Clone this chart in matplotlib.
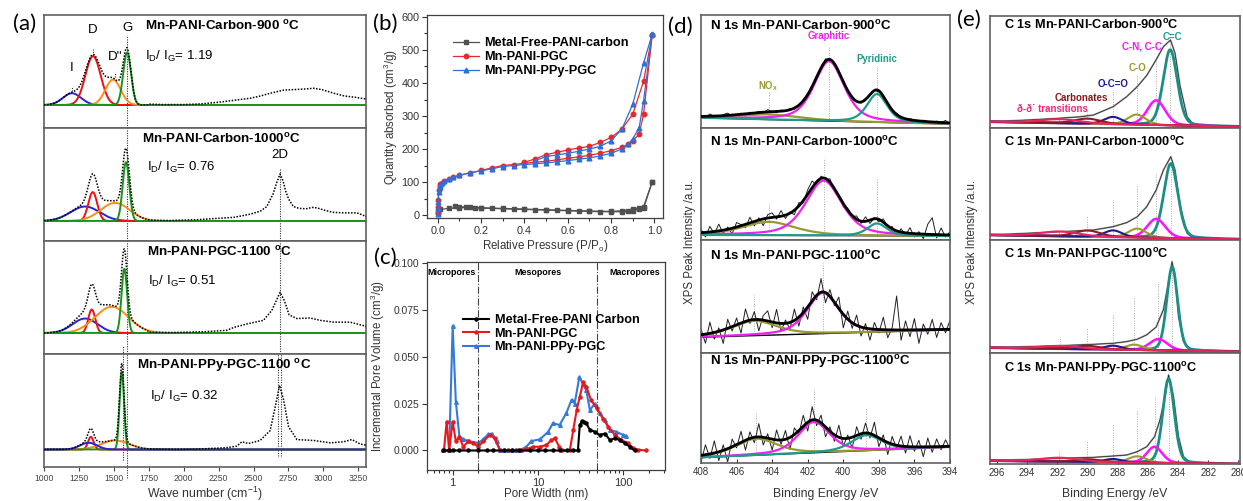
import numpy as np
import matplotlib
matplotlib.use("Agg")
import matplotlib.pyplot as plt
from matplotlib.ticker import MultipleLocator, FixedLocator, LogLocator, NullFormatter, FormatStrFormatter

plt.rcParams['font.family'] = ['Liberation Sans', 'DejaVu Sans']
plt.rcParams['mathtext.fontset'] = 'custom'
plt.rcParams['mathtext.rm'] = 'Liberation Sans'
plt.rcParams['mathtext.it'] = 'Liberation Sans:italic'
plt.rcParams['mathtext.bf'] = 'Liberation Sans:bold'

# ======================= (a) Raman =======================
raman_titles = ['Mn-PANI-Carbon-900 $^\\mathbf{o}$C', 'Mn-PANI-Carbon-1000$^\\mathbf{o}$C',
                'Mn-PANI-PGC-1100 $^\\mathbf{o}$C', 'Mn-PANI-PPy-PGC-1100 $^\\mathbf{o}$C']
raman_ratio = ['1.19', '0.76', '0.51', '0.32']
# fitted bands: I, D, D'', G  (centre cm-1, height, sigma)
ra_I_pos = [1200, 1294, 1294, 1318]; ra_I_h = [0.13, 0.16, 0.16, 0.075]; ra_I_w = [65, 105, 90, 60]
ra_D_pos = [1351, 1349, 1342, 1335]; ra_D_h = [0.54, 0.32, 0.26, 0.14]; ra_D_w = [55, 32, 25, 20]
ra_D2_pos = [1494, 1509, 1485, 1510]; ra_D2_h = [0.28, 0.20, 0.29, 0.10]; ra_D2_w = [55, 105, 120, 100]
ra_G_pos = [1595, 1587, 1575, 1557]; ra_G_h = [0.58, 0.65, 0.71, 0.86]; ra_G_w = [28, 24, 20, 16]
# measured second-order region
ra2_x = [
    [1750, 1850, 2000, 2119, 2250, 2350, 2477, 2550, 2620, 2716, 2780, 2850, 2931, 2990, 3074, 3150, 3230, 3307],
    [1760, 1900, 2000, 2100, 2200, 2356, 2476, 2550, 2595, 2640, 2665, 2690, 2712, 2730, 2752, 2785, 2825, 2875,
     2920, 2955, 3005, 3074, 3150, 3240, 3275, 3305],
    [1750, 1900, 2050, 2150, 2213, 2309, 2356, 2452, 2571, 2631, 2690, 2720, 2755, 2810, 2905, 2977, 3072, 3191, 3307],
    [1800, 1950, 2100, 2165, 2308, 2380, 2416, 2464, 2547, 2619, 2655, 2686, 2715, 2751, 2810, 2930, 3049, 3144,
     3204, 3264, 3305]]
ra2_y = [
    [0.01, 0.005, 0.005, 0.012, 0.03, 0.05, 0.075, 0.10, 0.13, 0.165, 0.17, 0.175, 0.185, 0.17, 0.13, 0.10, 0.085, 0.066],
    [0.01, 0.005, 0.01, 0.015, 0.025, 0.04, 0.075, 0.11, 0.16, 0.30, 0.42, 0.52, 0.44, 0.33, 0.24, 0.16, 0.14, 0.135,
     0.15, 0.145, 0.12, 0.095, 0.09, 0.09, 0.07, 0.05],
    [0.01, 0.005, 0.01, 0.015, 0.02, 0.03, 0.06, 0.10, 0.14, 0.25, 0.45, 0.36, 0.20, 0.16, 0.166, 0.14, 0.12, 0.12, 0.074],
    [0.005, 0.0, 0.005, 0.01, 0.02, 0.037, 0.085, 0.066, 0.10, 0.21, 0.47, 0.71, 0.55, 0.25, 0.11, 0.10, 0.074, 0.085,
     0.11, 0.06, 0.048]]

# ======================= (b) N2 isotherms =======================
b_red_ads_p = [0.0005, 0.001, 0.002, 0.004, 0.008, 0.012, 0.02, 0.03, 0.05, 0.07, 0.1, 0.15, 0.2, 0.25, 0.3, 0.35,
               0.4, 0.45, 0.5, 0.55, 0.6, 0.65, 0.7, 0.75, 0.8, 0.85, 0.88, 0.9, 0.93, 0.95, 0.99]
b_red_ads_v = [5, 25, 45, 75, 88, 93, 98, 103, 108, 114, 120, 128, 135, 143, 150, 153, 157, 160, 163, 167, 172,
               176, 181, 187, 195, 205, 215, 225, 245, 305, 545]
b_red_des_p = [0.99, 0.95, 0.9, 0.85, 0.8, 0.75, 0.7, 0.65, 0.6, 0.55, 0.5, 0.45, 0.4]
b_red_des_v = [545, 405, 305, 260, 235, 220, 208, 203, 197, 190, 183, 170, 160]
b_blue_ads_p = b_red_ads_p
b_blue_ads_v = [3, 20, 40, 70, 85, 92, 97, 102, 108, 114, 121, 128, 134, 140, 147, 150, 153, 155, 158, 161, 165,
                169, 173, 179, 187, 200, 215, 230, 265, 345, 548]
b_blue_des_p = [0.99, 0.95, 0.9, 0.85, 0.8, 0.75, 0.7, 0.65, 0.6, 0.55, 0.5, 0.45]
b_blue_des_v = [548, 460, 335, 260, 225, 208, 200, 193, 187, 182, 177, 165]
b_gray_ads_p = [0.0005, 0.002, 0.01, 0.05, 0.1, 0.13, 0.17, 0.2, 0.25, 0.3, 0.35, 0.4, 0.45, 0.5, 0.55, 0.6, 0.65,
                0.7, 0.75, 0.8, 0.85, 0.88, 0.9, 0.93, 0.95, 0.99]
b_gray_ads_v = [5, 12, 17, 20, 22, 23, 22, 21, 20, 19, 18, 17, 16, 15, 14, 13, 12, 11, 10, 10, 10, 11, 13, 17, 20, 100]
b_gray_des_p = [0.99, 0.95, 0.93, 0.9, 0.85, 0.8, 0.7, 0.6, 0.5, 0.4, 0.3, 0.2, 0.15, 0.1, 0.08]
b_gray_des_v = [100, 25, 22, 18, 13, 11, 12, 14, 16, 18, 20, 22, 24, 25, 26]

# ======================= (c) pore size distribution =======================
c_blue_x = [0.78, 0.91, 1.0, 1.09, 1.2, 1.33, 1.55, 2.0, 2.3, 2.6, 2.86, 3.3, 3.6, 4.0, 4.5, 5.0, 5.5, 6.1, 7.3, 8.4,
            10.6, 13.2, 15, 18, 21.6, 24.8, 27, 30.6, 34, 37, 40.7, 46.5, 53, 61, 70, 83, 100, 109]
c_blue_y = [0, 0, 0.0665, 0.026, 0.0074, 0.006, 0.005, 0.004, 0.006, 0.0086, 0.009, 0.0048, 0, 0, 0, 0, 0, 0, 0.002,
            0.005, 0.006, 0.010, 0.0145, 0.0136, 0.020, 0.027, 0.025, 0.039, 0.0356, 0.032, 0.0215, 0.025, 0.020,
            0.016, 0.011, 0.010, 0.0083, 0.0078]
c_red_x = [0.79, 0.85, 0.91, 1.0, 1.09, 1.2, 1.33, 1.53, 1.75, 2.0, 2.3, 2.74, 3.1, 3.6, 4.5, 5.5, 6.5, 7.3, 8.8,
           10.6, 12.6, 14.4, 15.8, 17.8, 19, 23.7, 26, 28.5, 31, 34, 37, 42, 49, 58, 67, 80, 95, 114, 131, 150, 188]
c_red_y = [0, 0.0154, 0, 0.0154, 0.0048, 0.0074, 0.002, 0.005, 0.004, 0.002, 0.005, 0.0083, 0.0065, 0, 0, 0, 0,
           0.0007, 0.002, 0.002, 0.003, 0.0056, 0.0065, 0.002, 0, 0, 0.011, 0.0215, 0.0286, 0.0365, 0.034, 0.027,
           0.0224, 0.017, 0.0127, 0.0083, 0.0056, 0.0039, 0.0012, 0.0004, 0]
c_black_x = [0.78, 0.9, 1.0, 1.2, 1.5, 2, 2.5, 3, 4, 5, 6, 8, 10, 12, 15, 18, 22, 26, 29.5, 31, 33, 35, 37, 40.7,
             46.5, 53, 61, 70, 80, 91, 104, 120, 137]
c_black_y = [0, 0, 0, 0, 0, 0, 0, 0, 0, 0, 0, 0, 0, 0, 0, 0, 0, 0, 0, 0.0136, 0.0158, 0.015, 0.0145, 0.011, 0.010,
             0.0083, 0.009, 0.0056, 0.0065, 0.0056, 0.0039, 0.002, 0]

# ======================= (d) N 1s XPS =======================
n1s_titles = ['N 1s Mn-PANI-Carbon-900$^\\mathbf{o}$C', 'N 1s Mn-PANI-Carbon-1000$^\\mathbf{o}$C',
              'N 1s Mn-PANI-PGC-1100$^\\mathbf{o}$C', 'N 1s Mn-PANI-PPy-PGC-1100$^\\mathbf{o}$C']
n1s_bg_left = [0.09, 0.045, 0.14, 0.05]
n1s_bg_right = [0.035, 0.035, 0.205, 0.145]
n_nox_pos = [404.2, 404.2, 405.0, 404.9]; n_nox_amp = [0.045, 0.12, 0.13, 0.15]; n_nox_fwhm = [4.0, 3.5, 3.0, 2.8]
n_gra_pos = [400.8, 401.1, 401.15, 401.65]; n_gra_amp = [0.53, 0.49, 0.36, 0.28]; n_gra_fwhm = [2.0, 2.4, 2.1, 2.1]
n_pyr_pos = [398.1, 398.1, None, 398.7]; n_pyr_amp = [0.25, 0.11, None, 0.14]; n_pyr_fwhm = [1.35, 1.3, None, 2.0]
n1s_resid = [
    [1, -1, 2, 0, -1, 1, 2, -1, 0, 1, -2, 1, 0, 1, -1, 2, 0, -1, 1, 0, 1, -1, 0, 1, 0, -1, 1, 0, 2, -1, 0, 1, -1, 0,
     1, 0, -1, 1, 0, 0, -1, 1, 0, -1, 1, 0, -2, 1, 0, -1, 1, 0, -1, 1, 0, 2, -1],
    [3, -4, 5, -2, 6, -3, 2, -5, 4, 1, -3, 5, -4, 2, -6, 3, 4, -2, 5, -3, 1, -4, 3, -2, 4, 6, -3, 2, -1, 3, -2, 1, -3,
     2, -1, 3, -2, 4, -3, 1, -2, 3, -1, 2, -4, 3, -2, 5, -3, 2, -4, 9, 15, -3, 6, -2, 3],
    [5, -8, 10, -6, 3, -12, 8, -4, 6, -9, 11, -3, 7, -10, 4, 9, -5, 12, -7, 3, -6, 10, -8, 5, -11, 8, -4, 12, -9, 6,
     -3, 10, -12, 7, -5, 9, -8, 4, -10, 6, -3, 11, -7, 2, 30, -9, 8, -6, 10, -12, 5, -4, 9, -7, 6, -3, 8],
    [-6, 9, -4, 11, -8, 5, -12, 7, -3, 10, -9, 6, -5, 12, -7, 4, -10, 9, -4, 8, -11, 6, -3, 10, -8, 12, -5, 7, -9, 4,
     -6, 11, -7, 3, -10, 8, -5, 9, -4, 12, -8, 5, -11, 7, -3, 9, -6, 10, -4, 6, -9, 8, -5, 7, -3, 6, -2]]
n1s_title_y = [0.9, 0.88, 0.86, 0.92]

# ======================= (e) C 1s XPS =======================
c1s_titles = ['C 1s Mn-PANI-Carbon-900$^\\mathbf{o}$C', 'C 1s Mn-PANI-Carbon-1000$^\\mathbf{o}$C',
              'C 1s Mn-PANI-PGC-1100$^\\mathbf{o}$C', 'C 1s Mn-PANI-PPy-PGC-1100$^\\mathbf{o}$C']
c1s_bg_left = [0.056, 0.045, 0.047, 0.03]
c1s_bg_right = [0.012, 0.006, 0.012, 0.0]
e_cc_pos = [284.52, 284.48, 284.39, 284.63]; e_cc_amp = [0.675, 0.665, 0.74, 0.76]; e_cc_fwhm = [1.1, 1.1, 0.85, 0.9]
e_cn_pos = [285.45, 285.45, 285.3, 285.56]; e_cn_amp = [0.22, 0.17, 0.10, 0.145]; e_cn_fwhm = [1.4, 1.4, 1.4, 1.2]
e_co_pos = [286.74, 286.7, 286.9, 286.7]; e_co_amp = [0.09, 0.08, 0.047, 0.057]; e_co_fwhm = [1.4, 1.4, 1.4, 1.4]
e_oco_pos = [288.3, 288.3, 288.3, 288.3]; e_oco_amp = [0.065, 0.06, 0.035, 0.03]; e_oco_fwhm = [1.4, 1.4, 1.4, 1.4]
e_carb_pos = [290.0, 290.0, 290.0, 290.0]; e_carb_amp = [0.045, 0.055, 0.03, 0.025]; e_carb_fwhm = [2.0, 2.0, 2.0, 2.0]
e_pi_pos = [291.85, 291.85, 291.8, 291.85]; e_pi_amp = [0.035, 0.042, 0.025, 0.035]; e_pi_fwhm = [3.0, 3.0, 3.0, 3.0]
e_env_x = [
    [296.44, 294, 292, 290.5, 289.6, 288.3, 287.4, 286.7, 286.07, 285.45, 284.97, 284.5, 284.2, 283.86, 283.4, 282.97, 279.9],
    [296.44, 291.8, 289.6, 288.3, 287.4, 286.7, 286.07, 285.45, 284.97, 284.48, 284.2, 283.86, 283.4, 282.97, 279.9],
    [296.44, 291.8, 289.6, 288.3, 287.4, 286.7, 286.07, 285.45, 284.97, 284.64, 284.4, 284.2, 283.97, 283.64, 283.2, 279.9],
    [296.44, 291.8, 289.6, 288.3, 287.4, 286.7, 286.07, 285.56, 285.2, 284.86, 284.63, 284.3, 283.97, 283.64, 283.2, 279.9]]
e_env_y = [
    [0.057, 0.071, 0.086, 0.10, 0.116, 0.19, 0.28, 0.37, 0.47, 0.61, 0.726, 0.786, 0.667, 0.37, 0.10, 0.027, 0.012],
    [0.045, 0.074, 0.089, 0.119, 0.155, 0.208, 0.298, 0.446, 0.625, 0.744, 0.625, 0.298, 0.06, 0.015, 0.006],
    [0.047, 0.065, 0.077, 0.086, 0.101, 0.122, 0.161, 0.23, 0.384, 0.622, 0.807, 0.682, 0.324, 0.101, 0.033, 0.012],
    [0.03, 0.051, 0.06, 0.072, 0.081, 0.111, 0.156, 0.246, 0.396, 0.607, 0.802, 0.607, 0.246, 0.066, 0.012, 0.0]]
e_drop_tops = [[0.10, 0.16, 0.34, 0.47, 0.62, 0.84], [0.10, 0.21, 0.36, 0.48, 0.60, 0.74],
               [0.13, 0.22, 0.34, 0.49, 0.63, 0.82], [0.126, 0.216, 0.35, 0.486, 0.607, 0.80]]
c1s_title_y = [0.92, 0.88, 0.875, 0.856]

# ---------------------------------------------------------------------
W, H = 1243, 501
fig = plt.figure(figsize=(W / 100, H / 100), dpi=100)


def add_ax(x0, y0, x1, y1):
    return fig.add_axes([x0 / W, 1 - y1 / H, (x1 - x0) / W, (y1 - y0) / H])


def gauss(x, c, h, s):
    return h * np.exp(-0.5 * ((x - c) / s) ** 2)


def pv(x, c, a, f, eta):
    d = (x - c) / f
    return a * (eta / (1 + 4 * d ** 2) + (1 - eta) * np.exp(-4 * np.log(2) * d ** 2))


FRAME = '#606060'


def style_frame(ax, lw=1.2):
    for s in ax.spines.values():
        s.set_color(FRAME)
        s.set_linewidth(lw)


panel_font = dict(family='Lato', fontsize=16)
fig.text(25 / W, 1 - 24 / H, '(a)', ha='center', va='center', **panel_font)
fig.text(385 / W, 1 - 24 / H, '(b)', ha='center', va='center', **panel_font)
fig.text(385 / W, 1 - 258 / H, '(c)', ha='center', va='center', **panel_font)
fig.text(680 / W, 1 - 27 / H, '(d)', ha='center', va='center', **panel_font)
fig.text(969 / W, 1 - 20 / H, '(e)', ha='center', va='center', **panel_font)

# ---------------- (a) ----------------
a_bounds = [15, 128, 241, 354, 467]
base_px = [23, 20, 21, 17.5]
scale = 90.4
ax_full = np.linspace(1000, 3305, 1400)
ax_first = np.linspace(1000, 1740, 300)
comp_cols = ['#2424d8', '#ee1111', '#ff8c1a', '#16961a']
title_x = [1723, 1700, 1736, 1663]
ratio_x = [1723, 1736, 1747, 1759]
ratio_y = [0.63, 0.65, 0.64, 0.62]
for i in range(4):
    top, bot = a_bounds[i], a_bounds[i + 1]
    ax = add_ax(44, top, 366, bot)
    h = bot - top
    ax.set_xlim(1000, 3305)
    ax.set_ylim(-base_px[i] / scale, (h - base_px[i]) / scale)
    style_frame(ax)
    ax.set_yticks([])
    pars = [(ra_I_pos[i], ra_I_h[i], ra_I_w[i]), (ra_D_pos[i], ra_D_h[i], ra_D_w[i]),
            (ra_D2_pos[i], ra_D2_h[i], ra_D2_w[i]), (ra_G_pos[i], ra_G_h[i], ra_G_w[i])]
    order = [0, 1, 2, 3] if i < 3 else [1, 2, 3, 0]
    for z, k in enumerate(order):
        ax.plot(ax_full, gauss(ax_full, *pars[k]), color=comp_cols[k], lw=1.4, zorder=3 + z)
    first = sum(gauss(ax_first, *p) for p in pars)
    rx = np.concatenate([ax_first, ra2_x[i]])
    ry = np.concatenate([first, ra2_y[i]])
    ax.plot(rx, ry, color='black', lw=1.1, ls=(0, (1, 1)), zorder=10, clip_on=(i != 3))
    ax.text(title_x[i], 0.9, raman_titles[i], transform=ax.get_xaxis_transform(), fontsize=9.6,
            fontweight='bold', ha='left', va='center')
    ax.text(ratio_x[i], ratio_y[i], 'I$_\\mathrm{D}$/ I$_\\mathrm{G}$= ' + raman_ratio[i],
            transform=ax.get_xaxis_transform(), fontsize=9.5, ha='left', va='center')
    dline = dict(color='#333333', lw=0.8, ls=(0, (1, 1.2)), zorder=2)
    if i == 0:
        ax.axvline(1595, ymin=0, ymax=0.82, **dline)
        for lab, x, y in [('I', 1200, 0.41), ('D', 1351, 0.83), ("D''", 1509, 0.53), ('G', 1595, 0.85)]:
            ax.text(x, y, lab, fontsize=9.5, ha='center', va='center')
        for x, y0, y1 in [(1200, 0.15, 0.2), (1351, 0.55, 0.62), (1509, 0.31, 0.37)]:
            ax.plot([x, x], [y0, y1], **dline)
    elif i == 1:
        ax.axvline(1595, **dline)
        ax.axvline(2690, ymin=0, ymax=0.65, **dline)
        ax.text(2690, 0.73, '2D', fontsize=9.5, ha='center', va='center')
    elif i == 2:
        ax.axvline(1595, **dline)
        ax.axvline(2690, **dline)
    else:
        ax.axvline(1597, ymin=-0.1, ymax=1.0, clip_on=False, **dline)
        ax.axvline(1563, ymin=0.06, ymax=1.08, clip_on=False, **dline)
        ax.axvline(2675, ymin=0.1, ymax=1.0, **dline)
        ax.axvline(2697, ymin=0.1, ymax=1.0, **dline)
    if i < 3:
        ax.set_xticks([])
    else:
        ax.xaxis.set_major_locator(MultipleLocator(250))
        ax.tick_params(axis='x', labelsize=6.2, length=3, width=0.8, colors='#444444', direction='out', pad=2)
        ax.set_xlabel('Wave number (cm$^{-1}$)', fontsize=8.8, color='#333333')
        ax.xaxis.set_label_coords(0.5, -0.155)

# ---------------- (b) ----------------
axb = add_ax(427, 15, 663, 218)
cg, cr, cb = '#505050', '#e8282b', '#2e6fd8'
axb.plot(b_gray_ads_p, b_gray_ads_v, color=cg, marker='s', ms=3.2, lw=0.9, label='Metal-Free-PANI-carbon')
axb.plot(b_gray_des_p, b_gray_des_v, color=cg, marker='s', ms=3.2, lw=0.9)
axb.plot(b_red_ads_p, b_red_ads_v, color=cr, marker='o', ms=3.2, lw=0.9, label='Mn-PANI-PGC')
axb.plot(b_red_des_p, b_red_des_v, color=cr, marker='o', ms=3.2, lw=0.9)
axb.plot(b_blue_ads_p, b_blue_ads_v, color=cb, marker='^', ms=3.4, lw=0.9, label='Mn-PANI-PPy-PGC')
axb.plot(b_blue_des_p, b_blue_des_v, color=cb, marker='^', ms=3.4, lw=0.9)
axb.set_xlim(-0.05, 1.04)
axb.set_ylim(-9, 606)
axb.xaxis.set_major_locator(MultipleLocator(0.2))
axb.xaxis.set_minor_locator(MultipleLocator(0.1))
axb.yaxis.set_major_locator(MultipleLocator(100))
axb.yaxis.set_minor_locator(MultipleLocator(50))
axb.xaxis.set_major_formatter(FormatStrFormatter('%.1f'))
axb.tick_params(which='both', labelsize=7.8, colors='#333333', width=0.8, pad=2)
axb.tick_params(which='major', length=3.5)
axb.tick_params(which='minor', length=2)
for s in axb.spines.values():
    s.set_color('#404040'); s.set_linewidth(0.9)
axb.set_xlabel('Relative Pressure (P/P$_\\mathrm{o}$)', fontsize=8.3, color='#333333')
axb.xaxis.set_label_coords(0.5, -0.1)
axb.set_ylabel('Quantity absorbed (cm$^3$/g)', fontsize=8.3, color='#333333')
axb.yaxis.set_label_coords(-0.115, 0.5)
axb.legend(loc='upper left', bbox_to_anchor=(0.11, 0.89), frameon=False, borderpad=0, borderaxespad=0,
           handlelength=2.0, handletextpad=0.4, labelspacing=0.15,
           prop=dict(weight='bold', size=9.2))

# ---------------- (c) ----------------
axc = add_ax(427, 262, 665, 470)
axc.plot(c_black_x, c_black_y, color='black', marker='o', ms=2.2, lw=1.5, label='Metal-Free-PANI Carbon', zorder=3)
axc.plot(c_red_x, c_red_y, color='#e8191c', marker='o', ms=2.2, lw=1.5, label='Mn-PANI-PGC', zorder=2)
axc.plot(c_blue_x, c_blue_y, color='#3579db', marker='^', ms=2.6, lw=1.5, label='Mn-PANI-PPy-PGC', zorder=1)
axc.set_xscale('log')
axc.set_xlim(0.5, 310)
axc.set_ylim(-0.0104, 0.1005)
axc.axvline(2, color='#444444', lw=0.8, ls='-.')
axc.axvline(50, color='#444444', lw=0.8, ls='-.')
for lab, x in [('Micropores', 0.97), ('Mesopores', 10), ('Macropores', 137)]:
    axc.text(x, 0.0947, lab, fontsize=6.4, fontweight='bold', ha='center', va='center')
axc.xaxis.set_major_locator(FixedLocator([1, 10, 100]))
axc.xaxis.set_major_formatter(FormatStrFormatter('%g'))
axc.xaxis.set_minor_locator(LogLocator(base=10, subs=np.arange(2, 10)))
axc.xaxis.set_minor_formatter(NullFormatter())
axc.yaxis.set_major_locator(MultipleLocator(0.025))
axc.yaxis.set_major_formatter(FormatStrFormatter('%.3f'))
axc.tick_params(which='both', colors='#333333', width=0.8, pad=2)
axc.tick_params(axis='x', which='major', labelsize=8, length=3.5)
axc.tick_params(axis='y', which='major', labelsize=7.4, length=3.5)
axc.tick_params(which='minor', length=2)
for s in axc.spines.values():
    s.set_color('#404040'); s.set_linewidth(0.9)
axc.set_xlabel('Pore Width (nm)', fontsize=8.3, color='#333333')
axc.xaxis.set_label_coords(0.5, -0.085)
axc.set_ylabel('Incremental Pore Volume (cm$^3$/g)', fontsize=8.3, color='#333333')
axc.yaxis.set_label_coords(-0.168, 0.5)
axc.legend(loc='upper left', bbox_to_anchor=(0.151, 0.75), frameon=False, borderpad=0, borderaxespad=0,
           handlelength=2.1, handletextpad=0.4, labelspacing=0.12,
           prop=dict(weight='bold', size=9.1))

# ---------------- (d) ----------------
d_bounds = [15, 128, 240, 353, 463]
col_nox, col_gra, col_pyr = '#999933', '#ee22ee', '#1f9a8c'
xd = np.linspace(408, 394, 700)
d_drop = [[0.33, 0.73, 0.55], [0.33, 0.73, 0.55], [0.52, 0.80, None], [0.46, 0.67, 0.50]]
for i in range(4):
    ax = add_ax(701, d_bounds[i], 950, d_bounds[i + 1])
    ax.set_xlim(408, 394)
    ax.set_ylim(0, 1)
    style_frame(ax)
    ax.set_yticks([])
    bg = lambda x: n1s_bg_left[i] + (n1s_bg_right[i] - n1s_bg_left[i]) * (408 - x) / 14.0
    comps = [(n_nox_pos[i], n_nox_amp[i], n_nox_fwhm[i], col_nox),
             (n_gra_pos[i], n_gra_amp[i], n_gra_fwhm[i], col_gra)]
    if n_pyr_pos[i] is not None:
        comps.append((n_pyr_pos[i], n_pyr_amp[i], n_pyr_fwhm[i], col_pyr))
    env = bg(xd) + sum(pv(xd, c, a, f, 0.5) for c, a, f, _ in comps)
    xr = np.linspace(408, 394, len(n1s_resid[i]))
    env_r = bg(xr) + sum(pv(xr, c, a, f, 0.5) for c, a, f, _ in comps)
    ax.plot(xr, env_r + np.array(n1s_resid[i]) / 100.0, color='#202020', lw=0.7, zorder=2)
    ax.plot(xd, bg(xd), color='black', lw=1.0, zorder=3)
    for c, a, f, col in comps:
        ax.plot(xd, bg(xd) + pv(xd, c, a, f, 0.5), color=col, lw=1.6, zorder=4)
    ax.plot(xd, env, color='black', lw=2.0, zorder=5)
    for (c, a, f, col), tp in zip(comps, d_drop[i]):
        if tp is not None:
            ax.plot([c, c], [bg(c), tp], color='#aaaaaa', lw=0.7, ls=(0, (1, 1.5)), zorder=1)
    ax.text(407.5, n1s_title_y[i], n1s_titles[i], fontsize=9.5, fontweight='bold', ha='left', va='center')
    if i == 0:
        ax.text(400.8, 0.81, 'Graphitic', color=col_gra, fontsize=6.9, fontweight='bold', ha='center', va='center')
        ax.text(398.1, 0.61, 'Pyridinic', color=col_pyr, fontsize=6.9, fontweight='bold', ha='center', va='center')
        ax.text(404.2, 0.37, 'NO$_\\mathbf{x}$', color=col_nox, fontsize=6.9, fontweight='bold', ha='center',
                va='center')
    if i < 3:
        ax.set_xticks([])
    else:
        ax.xaxis.set_major_locator(MultipleLocator(2))
        ax.tick_params(axis='x', labelsize=7, length=3, width=0.8, colors='#333333', direction='in', pad=3)
        ax.set_xlabel('Binding Energy /eV', fontsize=8.8, color='#333333')
        ax.xaxis.set_label_coords(0.5, -0.225)
fig.text(690 / W, 1 - 242 / H, 'XPS Peak Intensity /a.u.', rotation=90, ha='center', va='center',
         fontsize=8.3, color='#333333')

# ---------------- (e) ----------------
e_bounds = [16, 128, 240, 353, 464]
e_cols = ['#1b8f86', '#ff10ff', '#9b9b2f', '#1c1c8c', '#8b1a2a', '#e8245c']
e_lws = [2.0, 1.8, 1.5, 1.5, 1.5, 1.5]
xe = np.linspace(296.45, 279.9, 900)
for i in range(4):
    ax = add_ax(990, e_bounds[i], 1240, e_bounds[i + 1])
    ax.set_xlim(296.45, 279.9)
    ax.set_ylim(0, 1)
    style_frame(ax)
    ax.set_yticks([])
    bg = lambda x: c1s_bg_left[i] + (c1s_bg_right[i] - c1s_bg_left[i]) * (296.45 - x) / 16.55
    comps = [(e_cc_pos[i], e_cc_amp[i], e_cc_fwhm[i]), (e_cn_pos[i], e_cn_amp[i], e_cn_fwhm[i]),
             (e_co_pos[i], e_co_amp[i], e_co_fwhm[i]), (e_oco_pos[i], e_oco_amp[i], e_oco_fwhm[i]),
             (e_carb_pos[i], e_carb_amp[i], e_carb_fwhm[i]), (e_pi_pos[i], e_pi_amp[i], e_pi_fwhm[i])]
    for k, tp in zip([5, 4, 3, 2, 1, 0], e_drop_tops[i]):
        c = comps[k][0]
        ax.plot([c, c], [bg(c), tp], color='#aaaaaa', lw=0.7, ls=(0, (1, 1.5)), zorder=1)
    ax.plot(e_env_x[i], e_env_y[i], color='#a0a0a0', lw=1.3, zorder=2)
    ax.plot(e_env_x[i], e_env_y[i], color='#222222', lw=0.5, zorder=3)
    for k, (c, a, f) in enumerate(comps):
        ax.plot(xe, bg(xe) + pv(xe, c, a, f, 0.2), color=e_cols[k], lw=e_lws[k], zorder=4 + k)
    ax.text(295.5, c1s_title_y[i], c1s_titles[i], fontsize=9.2, fontweight='bold', ha='left', va='center')
    if i == 0:
        lbls = [('C=C', 284.35, 0.815, '#1f9a8f'), ('C-N, C-C', 286.4, 0.73, '#ff10ff'),
                ('C-O', 286.7, 0.54, '#999933'), ('O-C=O', 288.3, 0.39, '#1a1a99'),
                ('Carbonates', 290.4, 0.27, '#8b1a1a'), ('ð-ð˙ transitions', 292.3, 0.17, '#ee2a7b')]
        for t, x, y, col in lbls:
            ax.text(x, y, t, color=col, fontsize=7, fontweight='bold', ha='center', va='center', zorder=20)
    if i < 3:
        ax.set_xticks([])
    else:
        ax.xaxis.set_major_locator(MultipleLocator(2))
        ax.tick_params(axis='x', labelsize=7, length=3, width=0.8, colors='#333333', direction='in', pad=3)
        ax.set_xlabel('Binding Energy /eV', fontsize=8.8, color='#333333')
        ax.xaxis.set_label_coords(0.5, -0.215)
fig.text(972 / W, 1 - 242 / H, 'XPS Peak Intensity /a.u.', rotation=90, ha='center', va='center',
         fontsize=8.3, color='#333333')

fig.savefig('out.png', dpi=100)
